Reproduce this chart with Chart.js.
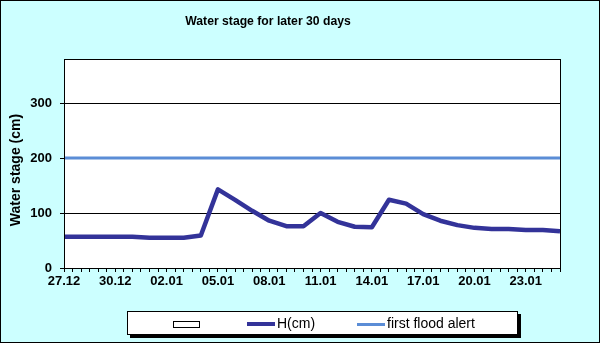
<!DOCTYPE html>
<html>
<head>
<meta charset="utf-8">
<script src="https://cdn.jsdelivr.net/npm/chart.js@4/dist/chart.umd.min.js"></script>
<style>
  body { margin: 0; background: #fff; }
  #wrap { position: relative; width: 600px; height: 343px; background: #ccffff; }
  canvas { position: absolute; left: 0; top: 0; }
  .legend {
    position: absolute; left: 127px; top: 311px; width: 389px; height: 22px;
    background: #fff; border: 1px solid #000; box-shadow: 3px 3px 0 #000;
    font: 14px "Liberation Sans", Arial, sans-serif; color: #000;
  }
  .legend .item { position: absolute; top: 0; height: 22px; line-height: 22px; white-space: nowrap; }
  .legend .swatch { display: inline-block; vertical-align: middle; margin-right: 2px; }
</style>
</head>
<body>
<div id="wrap">
  <canvas id="chart" width="600" height="343"></canvas>
  <div class="legend">
    <div class="item" style="left:45px"><span class="swatch" style="width:25px;height:5px;border:1px solid #000;background:#fff"></span></div>
    <div class="item" style="left:119px"><span class="swatch" style="width:28px;height:4px;background:#333399"></span>H(cm)</div>
    <div class="item" style="left:229px"><span class="swatch" style="width:28px;height:3px;background:#5b8dd6"></span>first flood alert</div>
  </div>
</div>
<script>
const dates = ["27.12", "28.12", "29.12", "30.12", "31.12", "01.01", "02.01", "03.01", "04.01", "05.01",
  "06.01", "07.01", "08.01", "09.01", "10.01", "11.01", "12.01", "13.01", "14.01", "15.01",
  "16.01", "17.01", "18.01", "19.01", "20.01", "21.01", "22.01", "23.01", "24.01", "25.01"];
const waterStage = [57, 57, 57, 57, 57, 55, 55, 55, 59, 143,
  124, 104, 86, 76, 76, 100, 84, 75, 74, 124,
  117, 98, 86, 78, 73, 71, 71, 69, 69, 67];
const floodAlert = [200, 200, 200, 200, 200, 200, 200, 200, 200, 200,
  200, 200, 200, 200, 200, 200, 200, 200, 200, 200,
  200, 200, 200, 200, 200, 200, 200, 200, 200, 200];
const yTicks = [0, 100, 200, 300];

const FONT = "'Liberation Sans', Arial, sans-serif";

const frame = {
  id: "frame",
  beforeDraw(chart) {
    const { ctx, chartArea: a } = chart;
    ctx.save();
    ctx.fillStyle = "#ccffff";
    ctx.fillRect(0, 0, chart.width, chart.height);
    ctx.fillStyle = "#fff";
    ctx.fillRect(a.left, a.top, a.right - a.left, a.bottom - a.top);
    ctx.restore();
  },
  afterDraw(chart) {
    const { ctx, chartArea: a } = chart;
    ctx.save();
    ctx.strokeStyle = "#000";
    ctx.lineWidth = 1;
    ctx.strokeRect(Math.round(a.left) + 0.5, Math.round(a.top) + 0.5,
      Math.round(a.right - a.left), Math.round(a.bottom - a.top));
    ctx.strokeRect(0.5, 0.5, chart.width - 1, chart.height - 1);
    ctx.fillStyle = "#000";
    ctx.textAlign = "center";
    ctx.textBaseline = "middle";
    ctx.font = "bold 12.2px " + FONT;
    ctx.fillText("Water stage for later 30 days", 268, 22);
    ctx.translate(16, 170);
    ctx.rotate(-Math.PI / 2);
    ctx.font = "bold 14px " + FONT;
    ctx.fillText("Water stage (cm)", 0, 0);
    ctx.restore();
  }
};

new Chart(document.getElementById("chart"), {
  type: "line",
  data: {
    datasets: [
      {
        label: "H(cm)",
        data: waterStage.map((v, i) => ({ x: i, y: v })),
        borderColor: "#333399",
        borderWidth: 4.5,
        pointRadius: 0,
        tension: 0,
        borderJoinStyle: "round"
      },
      {
        label: "first flood alert",
        data: floodAlert.map((v, i) => ({ x: i, y: v })),
        borderColor: "#5b8dd6",
        borderWidth: 3,
        pointRadius: 0,
        tension: 0
      }
    ]
  },
  options: {
    responsive: false,
    animation: false,
    layout: { padding: { left: 0, top: 59, right: 40, bottom: 0 } },
    plugins: { legend: { display: false }, title: { display: false }, tooltip: { enabled: false } },
    scales: {
      x: {
        type: "linear",
        min: 0,
        max: dates.length - 1,
        afterFit: (s) => { s.height = 75; },
        grid: { drawOnChartArea: false, drawTicks: true, tickLength: 4, tickColor: "#000" },
        border: { display: true, color: "#000" },
        ticks: {
          stepSize: 0.5,
          autoSkip: false,
          maxRotation: 0,
          minRotation: 0,
          padding: 2,
          color: "#000",
          font: { family: FONT, size: 13, weight: "bold" },
          callback: (v) => (Number.isInteger(v) && v % 3 === 0 ? dates[v] : "")
        }
      },
      y: {
        min: 0,
        max: 380,
        afterFit: (s) => { s.width = 64; },
        afterBuildTicks: (s) => { s.ticks = yTicks.map((v) => ({ value: v })); },
        grid: { color: "#000", lineWidth: 1, drawTicks: true, tickLength: 4, tickColor: "#000" },
        border: { display: true, color: "#000" },
        ticks: {
          padding: 8,
          color: "#000",
          font: { family: FONT, size: 13, weight: "bold" }
        }
      }
    }
  },
  plugins: [frame]
});
</script>
</body>
</html>
